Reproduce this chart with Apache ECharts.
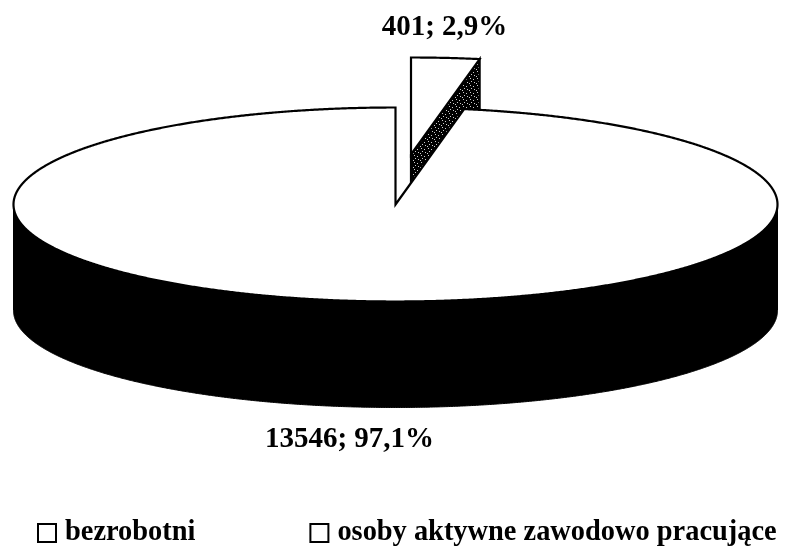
<!DOCTYPE html>
<html><head><meta charset="utf-8">
<style>html,body{margin:0;padding:0;background:#fff}#c{width:792px;height:548px}</style>
<script src="https://cdn.jsdelivr.net/npm/echarts@6/dist/echarts.min.js"></script>
</head><body><div id="c"></div>
<script>
const categories = ['bezrobotni', 'osoby aktywne zawodowo pracujące'];
const values = [401, 13546];
const total = values[0] + values[1];

const CX = 395.5, CY = 204.5, RX = 382, RY = 97, DEPTH = 106;
const EXPLODE = [15.5, -50];
const FONT = 'bold 29px "Liberation Serif"';

function pt(cx, cy, deg, dy) {
  const a = deg * Math.PI / 180;
  return [cx + RX * Math.sin(a), cy - RY * Math.cos(a) + (dy || 0)];
}
function arc(cx, cy, from, to, dy) {
  const out = [], n = Math.ceil(Math.abs(to - from) * 4);
  for (let i = 0; i <= n; i++) out.push(pt(cx, cy, from + (to - from) * i / n, dy));
  return out;
}
function labelOf(v) {
  return v + '; ' + (v / total * 100).toFixed(1).replace('.', ',') + '%';
}
function stipple() {
  const c = document.createElement('canvas');
  c.width = c.height = 7;
  const g = c.getContext('2d');
  g.fillStyle = '#000'; g.fillRect(0, 0, 7, 7);
  g.fillStyle = '#ccc';
  [[1,1],[4,2],[2,4],[5,5],[0,6]].forEach(p => g.fillRect(p[0], p[1], 1, 1));
  return c;
}
const pattern = { image: stipple(), repeat: 'repeat' };

function renderSmall(params, api) {
  const v = api.value(0), sweep = v / total * 360;
  const cx = CX + EXPLODE[0], cy = CY + EXPLODE[1];
  const end = pt(cx, cy, sweep);
  const endLow = pt(cx, cy, sweep, DEPTH);
  const black = { stroke: '#000', lineWidth: 2.2, lineJoin: 'miter' };
  return { type: 'group', children: [
    { type: 'polygon', shape: { points: [[cx, cy], end, endLow, [cx, cy + DEPTH]] },
      style: { fill: pattern, stroke: '#000', lineWidth: 2.2 } },
    { type: 'polygon', shape: { points: [[cx, cy]].concat(arc(cx, cy, 0, sweep)) },
      style: Object.assign({ fill: '#fff' }, black) },
    { type: 'text', x: 444.5, y: 28,
      style: { text: labelOf(v), font: FONT, fill: '#000', align: 'center', verticalAlign: 'middle' } }
  ]};
}
function renderMain(params, api) {
  const v = api.value(0), sweep = v / total * 360;
  const gap = 360 - sweep;
  const topFront = arc(CX, CY, 90, 270);
  const lowFront = arc(CX, CY, 270, 90, DEPTH);
  const top = [[CX, CY]].concat(arc(CX, CY, gap, 360));
  return { type: 'group', children: [
    { type: 'polygon', shape: { points: topFront.concat(lowFront) },
      style: { fill: '#000', stroke: '#000', lineWidth: 1 } },
    { type: 'polygon', shape: { points: top },
      style: { fill: '#fff', stroke: '#000', lineWidth: 2.2, lineJoin: 'miter' } },
    { type: 'text', x: 349.5, y: 440,
      style: { text: labelOf(v), font: FONT, fill: '#000', align: 'center', verticalAlign: 'middle' } }
  ]};
}

const chart = echarts.init(document.getElementById('c'), null, { renderer: 'canvas' });
chart.setOption({
  animation: false,
  backgroundColor: '#fff',
  legend: {
    left: 37, top: 519, padding: 0, orient: 'horizontal', itemGap: 114, itemWidth: 18, itemHeight: 18,
    textStyle: { fontFamily: 'Liberation Serif', fontWeight: 'bold', fontSize: 28.4, color: '#000', padding: [0, 0, 0, 4] },
    data: categories.map(n => ({ name: n, icon: 'rect',
      itemStyle: { color: '#fff', borderColor: '#000', borderWidth: 2 } }))
  },
  series: [
    { type: 'custom', coordinateSystem: 'none', name: categories[0], silent: true, renderItem: renderSmall, data: [[values[0]]], z: 2,
      itemStyle: { color: '#fff' } },
    { type: 'custom', coordinateSystem: 'none', name: categories[1], silent: true, renderItem: renderMain, data: [[values[1]]], z: 3,
      itemStyle: { color: '#fff' } }
  ]
});
</script></body></html>
